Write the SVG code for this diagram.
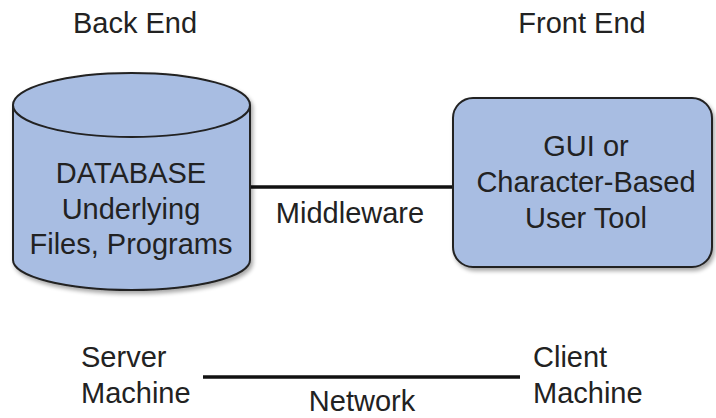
<svg xmlns="http://www.w3.org/2000/svg" width="716" height="418" viewBox="0 0 716 418">
<defs>
<style>
text{font-family:"Liberation Sans",Arial,sans-serif;font-size:29px;fill:#222;}
.c{text-anchor:middle;}
.shape{fill:#a8bde2;stroke:#222;stroke-width:2;}
.conn{stroke:#111;stroke-width:3.5;fill:none;}
</style>
<filter id="sh" x="-10%" y="-10%" width="130%" height="130%">
<feGaussianBlur in="SourceAlpha" stdDeviation="2"/>
<feOffset dx="2" dy="3"/>
<feComponentTransfer><feFuncA type="linear" slope="0.35"/></feComponentTransfer>
<feMerge><feMergeNode/><feMergeNode in="SourceGraphic"/></feMerge>
</filter>
</defs>
<rect width="716" height="418" fill="#fff"/>
<text class="c" x="135" y="33">Back End</text>
<text class="c" x="582" y="33">Front End</text>
<g id="connectors">
<line class="conn" x1="250" y1="187" x2="454" y2="187"/>
<line class="conn" x1="203" y1="377" x2="520" y2="377"/>
<text class="c" x="350" y="223">Middleware</text>
<text class="c" x="362" y="411">Network</text>
</g>
<g id="database">
<path class="shape" filter="url(#sh)" d="M13,105 A118.5,32 0 0 1 250,105 L250,260 A118.5,30 0 0 1 13,260 Z"/>
<path class="shape" d="M13,105 A118.5,32 0 0 0 250,105" style="fill:none"/>
<text class="c" x="131" y="183">DATABASE</text>
<text class="c" x="131" y="219">Underlying</text>
<text class="c" x="131" y="254">Files, Programs</text>
</g>
<g id="frontend">
<rect class="shape" filter="url(#sh)" x="453" y="98" width="259" height="169" rx="20"/>
<text class="c" x="586" y="156">GUI or</text>
<text class="c" x="586" y="192">Character-Based</text>
<text class="c" x="586" y="228">User Tool</text>
</g>
<g id="server">
<text x="81" y="367">Server</text>
<text x="81" y="403">Machine</text>
</g>
<g id="client">
<text x="533" y="367">Client</text>
<text x="533" y="403">Machine</text>
</g>
</svg>
